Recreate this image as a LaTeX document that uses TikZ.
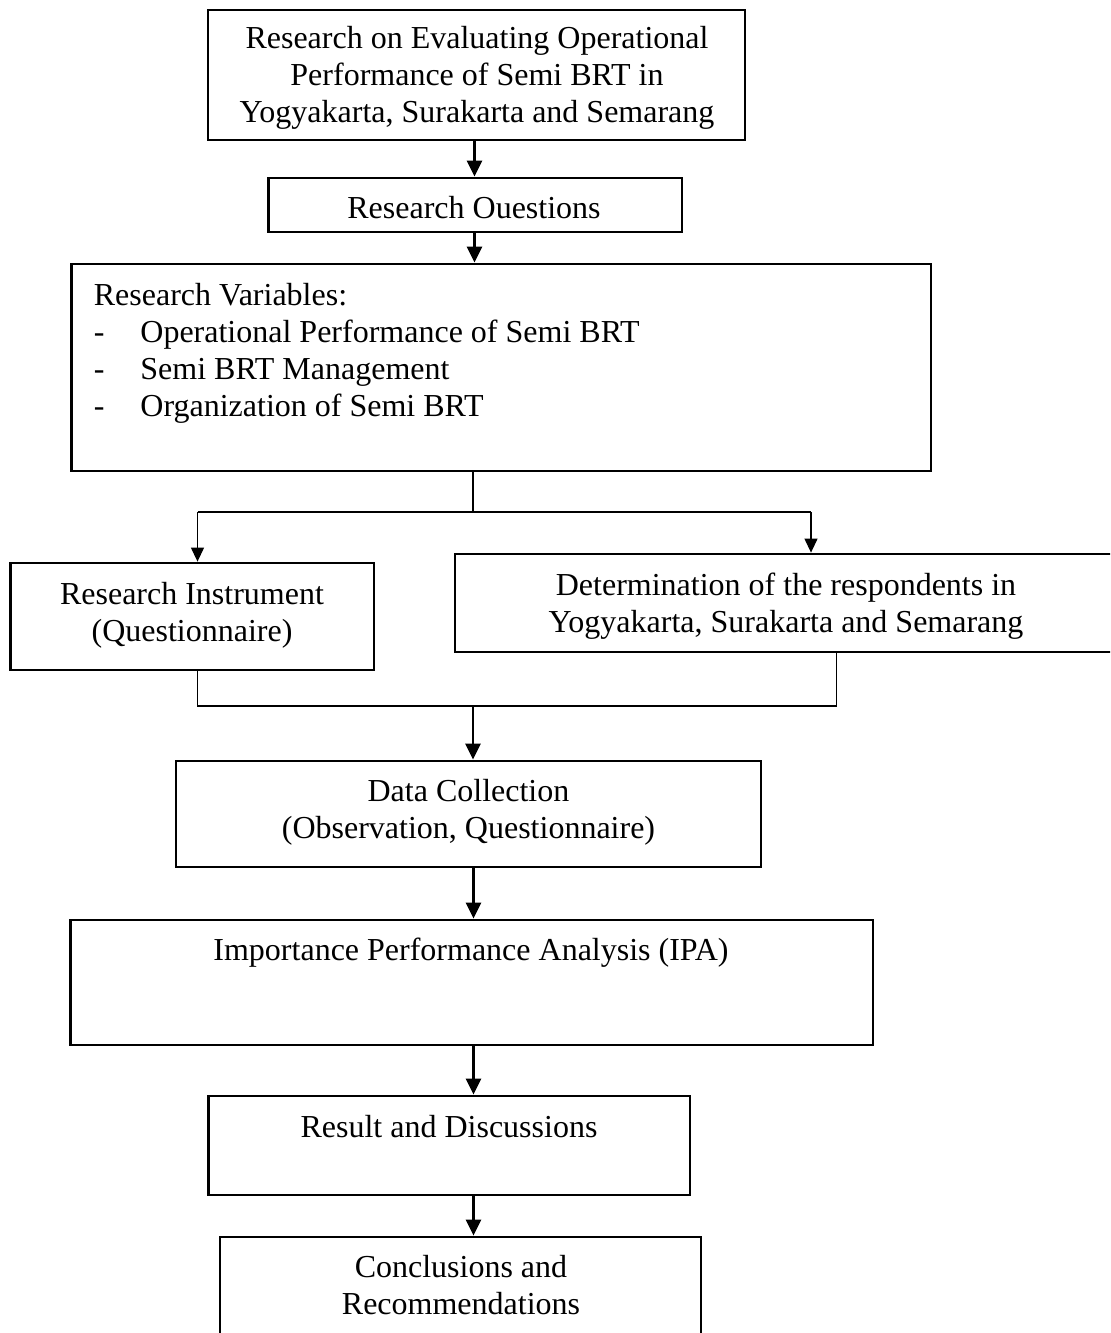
\documentclass[tikz,border=0pt]{standalone}
\usepackage{fontspec}
\setmainfont{Liberation Serif}
\usetikzlibrary{fit,arrows.meta}
\tikzset{
  box/.style={draw=black, line width=1.4pt, inner sep=0pt, fit={#1}},
  txt/.style={inner sep=0pt, align=center, anchor=base, font=\fontsize{16}{18.4}\selectfont},
  ltxt/.style={inner sep=0pt, align=left, anchor=base west, font=\fontsize{16}{18.4}\selectfont},
  arr/.style={line width=1.2pt, -{Triangle[length=8pt,width=7.5pt]}},
  thinarr/.style={line width=0.6pt, -{Triangle[length=7pt,width=6.5pt]}},
  thinline/.style={line width=0.6pt}
}
\begin{document}
\begin{tikzpicture}[x=0.5pt,y=-0.5pt]
\useasboundingbox (0,0) rectangle (1110,1333);
\clip (0,0) rectangle (1110,1333);
% boxes
\node[box={(208,10) (745,140)}] (b1) {};
\node[box={(268.5,178) (682,232)}] (b2) {};
\node[box={(71.5,264) (931,471)}] (b3) {};
\node[box={(10.6,563) (374,670)}] (b4) {};
\node[box={(455,554) (1117,652)}] (b5) {};
\node[box={(176,761) (761,867)}] (b6) {};
\node[box={(70.5,920) (873,1045)}] (b7) {};
\node[box={(208.5,1096) (690,1195)}] (b8) {};
\node[box={(220,1237) (701,1345)}] (b9) {};
% texts (anchor base = last line)
\node[txt] (t1) at (477,122) {Research on Evaluating Operational\\Performance of Semi BRT in\\Yogyakarta, Surakarta and Semarang};
\node[txt] (t2) at (474,218) {Research Ouestions};
\node[ltxt] (t3) at (93.5,305) {Research Variables:};
\node[ltxt] (t3a) at (93.5,342) {-};
\node[ltxt] (t3b) at (93.5,379) {-};
\node[ltxt] (t3c) at (93.5,416) {-};
\node[ltxt] (t3d) at (140,342) {Operational Performance of Semi BRT};
\node[ltxt] (t3e) at (140,379) {Semi BRT Management};
\node[ltxt] (t3f) at (140,416) {Organization of Semi BRT};
\node[txt] (t4) at (192,641) {Research Instrument\\(Questionnaire)};
\node[txt] (t5) at (786,632) {Determination of the respondents in\\Yogyakarta, Surakarta and Semarang};
\node[txt] (t6) at (468.5,838) {Data Collection\\(Observation, Questionnaire)};
\node[txt] (t7) at (471,960) {Importance Performance Analysis (IPA)};
\node[txt] (t8) at (449,1137) {Result and Discussions};
\node[txt] (t9) at (461,1314) {Conclusions and\\Recommendations};
% coordinates
\coordinate (a1) at (474.5,0);
\coordinate (a2) at (473.5,0);
\coordinate (s1) at (473,512);
\coordinate (sL) at (197.5,512);
\coordinate (sR) at (811,512);
\coordinate (jL) at (197.5,706);
\coordinate (jR) at (836.5,706);
\coordinate (jM) at (473,706);
% connectors
\draw[arr] (b1.south -| a1) -- (b2.north -| a1);
\draw[arr] (b2.south -| a1) -- (b3.north -| a1);
\draw[thinline] (b3.south -| s1) -- (s1);
\draw[thinline] (sL) -- (sR);
\draw[thinarr] (sL) -- (b4.north -| sL);
\draw[thinarr] (sR) -- (b5.north -| sR);
\draw[thinline] (b4.south -| jL) -- (jL) -- (jR) -- (b5.south -| jR);
\draw[arr] (jM) -- (b6.north -| jM);
\draw[arr] (b6.south -| a2) -- (b7.north -| a2);
\draw[arr] (b7.south -| a2) -- (b8.north -| a2);
\draw[arr] (b8.south -| a2) -- (b9.north -| a2);
\end{tikzpicture}
\end{document}
